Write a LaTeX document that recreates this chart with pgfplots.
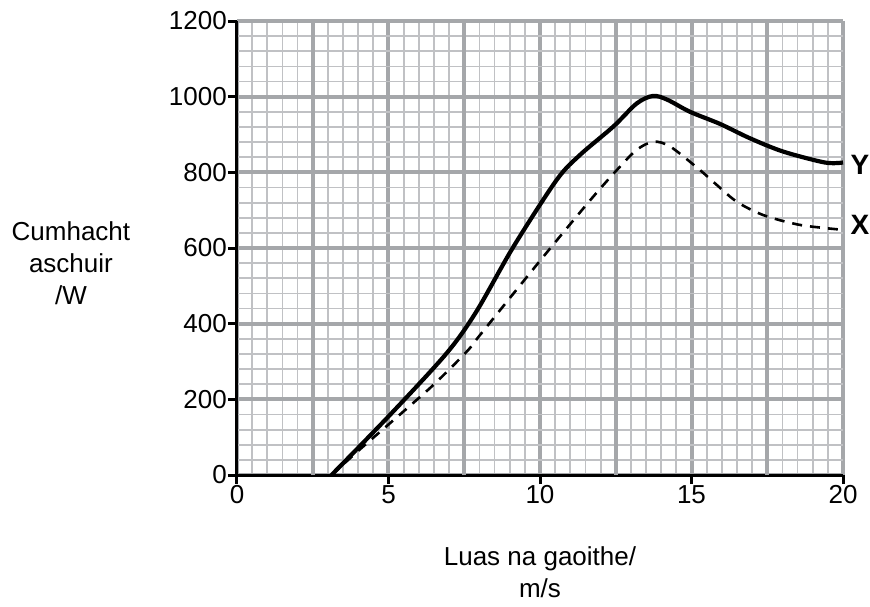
\documentclass[border=0pt]{standalone}
\usepackage{fontspec}
\setmainfont{Liberation Sans}
\usepackage{pgfplots}
\pgfplotsset{compat=1.18}
\definecolor{majgrid}{RGB}{165,167,170}
\definecolor{mingrid}{RGB}{192,193,196}
\newcommand{\bigf}{\fontsize{26}{32}\selectfont}

\begin{document}
\begin{tikzpicture}
\path[use as bounding box] (-237pt,-131pt) rectangle (633pt,475pt);
\begin{axis}[
    at={(0,0)}, anchor=south west,
    scale only axis, width=606pt, height=454pt,
    xmin=0, xmax=20, ymin=0, ymax=1200,
    clip=false,
    axis x line*=bottom, axis y line*=left,
    axis line style={line width=3pt, black, -},
    xtick={0,5,...,20}, ytick={0,200,...,1200},
    extra x ticks={2.5,7.5,12.5,17.5}, extra x tick labels={},
    extra x tick style={major tick length=0pt, grid=major},
    minor xtick={0,0.5,...,20}, minor ytick={0,40,...,1200},
    minor tick length=0pt,
    tick align=outside, major tick length=9pt,
    tick style={line width=3pt, black},
    grid=both,
    major grid style={line width=4pt, majgrid},
    minor grid style={line width=1.8pt, mingrid},
    ticklabel style={font=\bigf, inner sep=1pt},
    /pgf/number format/assume math mode=true,
    /pgf/number format/1000 sep={},
    xlabel={Luas na gaoithe/\\m/s},
    xlabel style={font=\bigf, align=center, at={(axis description cs:0.5,-0.215)}, anchor=center},
    ylabel={Cumhacht\\aschuir\\/W},
    ylabel style={font=\bigf, align=center, rotate=-90, at={(axis description cs:-0.274,0.467)}, anchor=center},
]

% Y (solid)
\addplot[line width=4.2pt, black, smooth, tension=0.5] coordinates {
    (3.12,0) (5.05,159) (6.92,322) (7.9,432) (9.12,603) (10.55,780)
    (11.32,846) (12.42,921) (13.19,982) (13.73,1002) (14.2,992)
    (14.95,960) (15.94,928) (16.93,890) (18.02,855) (19.4,826) (20,826)
};

% X (dashed)
\addplot[line width=2.6pt, black, dash pattern=on 10pt off 8pt, smooth, tension=0.5] coordinates {
    (3.12,0) (4.06,68) (5.38,160) (6.48,238) (7.58,326) (8.02,370)
    (10.11,577) (11.76,736) (12.64,815) (13.2,860) (13.74,881)
    (14.3,868) (15.28,806) (15.83,767) (16.5,722) (17.37,687)
    (18.58,661) (20,648)
};

\node[anchor=west, xshift=4pt, font=\bfseries\fontsize{28}{34}\selectfont] at (axis cs:20,819) {Y};
\node[anchor=west, xshift=4pt, font=\bfseries\fontsize{28}{34}\selectfont] at (axis cs:20,661) {X};
\end{axis}
\end{tikzpicture}
\end{document}
